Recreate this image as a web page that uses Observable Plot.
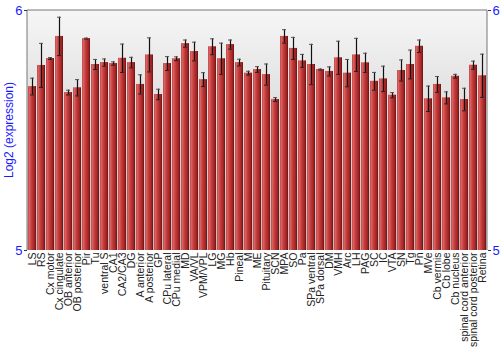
<!DOCTYPE html>
<html><head><meta charset="utf-8">
<script src="https://cdn.jsdelivr.net/npm/d3@7"></script>
<script src="https://cdn.jsdelivr.net/npm/@observablehq/plot@0.6"></script>
<style>body{margin:0;background:#fff;}</style>
</head><body><div id="chart"></div>
<script>
const regions = ["LS","RS","Cx motor","Cx cingulate","OB anterior","OB posterior","Pir","Tu","ventral S","CA1","CA2/CA3","DG","A anterior","A posterior","GP","CPu lateral","CPu medial","MD","VA/VL","VPM/VPL","LG","MG","Hb","Pineal","M","ME","Pituitary","SCN","MPA","SO","Pa","SPa ventral","SPa dorsal","DM","VMH","Arc","LH","PAG","SC","IC","VTA","SN","Tg","Pn","MVe","Cb vermis","Cb lobe","Cb nucleus","spinal cord anterior","spinal cord posterior","Retina"];
const values = [5.683,5.771,5.800,5.892,5.658,5.678,5.883,5.775,5.783,5.779,5.801,5.783,5.692,5.815,5.650,5.779,5.799,5.862,5.829,5.712,5.849,5.799,5.858,5.783,5.739,5.754,5.733,5.629,5.892,5.842,5.790,5.775,5.754,5.746,5.803,5.739,5.815,5.782,5.705,5.715,5.647,5.750,5.775,5.851,5.632,5.692,5.636,5.726,5.629,5.772,5.728];
const errors = [0.035,0.092,0.004,0.080,0.010,0.034,0.002,0.021,0.015,0.007,0.059,0.022,0.040,0.071,0.022,0.029,0.008,0.015,0.039,0.029,0.033,0.065,0.019,0.014,0.008,0.012,0.044,0.008,0.028,0.046,0.027,0.084,0.002,0.019,0.069,0.057,0.069,0.040,0.037,0.053,0.011,0.044,0.060,0.026,0.053,0.033,0.025,0.008,0.047,0.017,0.090];
const yTicks = [5, 6];
const yLabel = "Log2 (expression)";

const data = regions.map((r, i) => ({region: r, value: values[i], err: errors[i]}));

const W = 500, H = 350, mT = 10, mB = 100, mL = 27, mR = 13;

function backdrop(index, scales, vals, dim) {
  const g = d3.create("svg:g");
  const defs = g.append("defs");
  const bg = defs.append("linearGradient").attr("id", "bgGrad").attr("x1", 0).attr("y1", 0).attr("x2", 0).attr("y2", 1);
  bg.append("stop").attr("offset", "0%").attr("stop-color", "#f6f6f6");
  bg.append("stop").attr("offset", "100%").attr("stop-color", "#bdbdbd");
  const bar = defs.append("linearGradient").attr("id", "barGrad").attr("x1", 0).attr("y1", 0).attr("x2", 1).attr("y2", 0);
  [["0%","#bf4a4a"],["18%","#d9615f"],["45%","#c43b3b"],["80%","#a02525"],["100%","#6a1010"]].forEach(([o,c]) =>
    bar.append("stop").attr("offset", o).attr("stop-color", c));
  g.append("rect").attr("x", dim.marginLeft).attr("y", dim.marginTop)
    .attr("width", dim.width - dim.marginLeft - dim.marginRight)
    .attr("height", dim.height - dim.marginTop - dim.marginBottom)
    .attr("fill", "url(#bgGrad)");
  return g.node();
}

function frameLines(index, scales, vals, dim) {
  const g = d3.create("svg:g").attr("stroke", "#777").attr("fill", "none");
  const x0 = dim.marginLeft, x1 = dim.width - dim.marginRight, y0 = dim.marginTop, y1 = dim.height - dim.marginBottom;
  g.append("path").attr("d", `M${x0},${y1}V${y0}H${x1}V${y1}`);
  g.append("text").attr("transform", `translate(9,${(y0 + y1) / 2}) rotate(-90)`)
    .attr("text-anchor", "middle").attr("dy", "0.35em")
    .attr("fill", "#1a1aff").attr("stroke", "none")
    .attr("font-size", 12).text(yLabel);
  return g.node();
}

const chart = Plot.plot({
  width: W, height: H,
  marginTop: mT, marginBottom: mB, marginLeft: mL, marginRight: mR,
  style: {fontFamily: "Liberation Sans, Arial, sans-serif", background: "#fff"},
  x: {domain: regions, paddingInner: 0.12, paddingOuter: 0.1, label: null},
  y: {domain: [5, 6], label: null},
  marks: [
    backdrop,
    Plot.barY(data, {x: "region", y1: d => 5, y2: "value", fill: "url(#barGrad)"}),
    Plot.ruleX(data, {x: "region", y1: d => d.value - d.err, y2: d => d.value + d.err, stroke: "#111", strokeWidth: 1.2}),
    Plot.tickY(data, {x: "region", y: d => d.value - d.err, stroke: "#222", insetLeft: 2, insetRight: 2}),
    Plot.tickY(data, {x: "region", y: d => d.value + d.err, stroke: "#555", insetLeft: 2, insetRight: 2}),
    frameLines,
    Plot.axisY(yTicks, {anchor: "left", tickSize: 3, tickPadding: 2, fontSize: 13, tickFormat: "d", fill: "#1a1aff", stroke: "#333", label: null}),
    Plot.axisY(yTicks, {anchor: "right", tickSize: 3, tickPadding: 2, fontSize: 13, tickFormat: "d", fill: "#1a1aff", stroke: "#333", label: null}),
    Plot.axisX({tickRotate: -90, tickSize: 0, tickPadding: 2, fontSize: 10.5, fill: "#222", label: null})
  ]
});
document.getElementById("chart").appendChild(chart);
</script>
</body></html>
